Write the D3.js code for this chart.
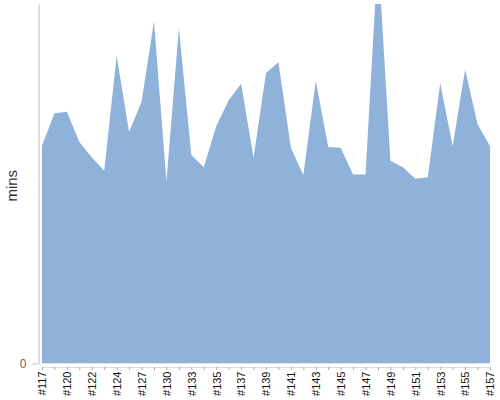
<!DOCTYPE html>
<html>
<head>
<meta charset="utf-8">
<script src="https://cdn.jsdelivr.net/npm/d3@7"></script>
<style>
  body { margin: 0; background: #fff; }
  text { font-family: "Liberation Sans", Arial, sans-serif; }
</style>
</head>
<body>
<div id="area-chart"></div>
<script>
// episode ids along the x axis
const episodes = ["#117", "#118", "#120", "#121", "#122", "#123", "#124", "#125", "#127", "#128",
    "#130", "#131", "#133", "#134", "#135", "#136", "#137", "#138", "#139", "#140",
    "#141", "#142", "#143", "#144", "#145", "#146", "#147", "#148", "#149", "#150",
    "#151", "#152", "#153", "#154", "#155", "#156", "#157"];

// length of each episode, minutes
const minutes = [30.3, 34.8, 35.0, 30.8, 28.7, 26.8, 42.8, 32.2, 36.4, 47.6,
    25.3, 46.7, 29.0, 27.3, 33.0, 36.6, 38.9, 28.6, 40.4, 41.9,
    30.0, 26.2, 39.3, 30.1, 30.0, 26.3, 26.3, 57.1, 28.2, 27.3,
    25.7, 25.9, 39.0, 30.2, 40.9, 33.3, 30.2];

const yTicks = [0];
const yMax = 50;

// Set the dimensions of the canvas / graph
const margin = { top: 4, right: 10, bottom: 36.5, left: 42 },
    width = 500 - margin.left - margin.right,
    height = 400 - margin.top - margin.bottom;

const svg = d3.select("#area-chart")
    .append("svg")
    .attr("width", 500)
    .attr("height", 400)
    .append("g")
    .attr("transform", `translate(${margin.left}, ${margin.top})`);

const x = d3.scalePoint().domain(episodes).range([0, width]);
const y = d3.scaleLinear().domain([0, yMax]).range([height, 0]);

const data = episodes.map((e, i) => ({ ep: e, mins: minutes[i] }));

// clip so the tall peak gets cut at the top
svg.append("clipPath")
    .attr("id", "plot-clip")
    .append("rect")
    .attr("x", 0)
    .attr("y", 0)
    .attr("width", width)
    .attr("height", height);

const area = d3.area()
    .x(d => x(d.ep))
    .y0(y(0))
    .y1(d => y(d.mins));

svg.append("path")
    .datum(data)
    .attr("clip-path", "url(#plot-clip)")
    .attr("fill", "#8fb2db")
    .attr("d", area);

// x axis, labels on every other tick
const xAxis = svg.append("g")
    .attr("class", "x-axis")
    .attr("transform", `translate(0, ${height + 3.5})`)
    .call(d3.axisBottom(x)
        .tickSize(3)
        .tickSizeOuter(0)
        .tickFormat((d, i) => i % 2 === 0 ? d : ""));

xAxis.select(".domain").attr("stroke", "#ddd");
xAxis.selectAll(".tick line").attr("stroke", "#aaa");
xAxis.selectAll(".tick text")
    .attr("transform", "rotate(-90)")
    .attr("x", -4.5)
    .attr("y", 0)
    .attr("dy", "0.35em")
    .style("text-anchor", "end")
    .style("font-size", "11px")
    .attr("fill", "#111");

// y axis
const yAxis = svg.append("g")
    .attr("class", "y-axis")
    .attr("transform", "translate(-3.5, 0)")
    .call(d3.axisLeft(y)
        .tickValues(yTicks)
        .tickSize(6)
        .tickSizeOuter(0)
        .tickPadding(6));

yAxis.select(".domain").attr("stroke", "#bbb");
yAxis.selectAll(".tick line").attr("stroke", "#bbb");
yAxis.selectAll(".tick text")
    .style("font-size", "12px")
    .attr("fill", "#666");

svg.append("text")
    .attr("transform", "rotate(-90)")
    .attr("x", -(height / 2) - 2)
    .attr("y", -25)
    .style("text-anchor", "middle")
    .style("font-size", "15px")
    .attr("fill", "#333")
    .text("mins");
</script>
</body>
</html>
